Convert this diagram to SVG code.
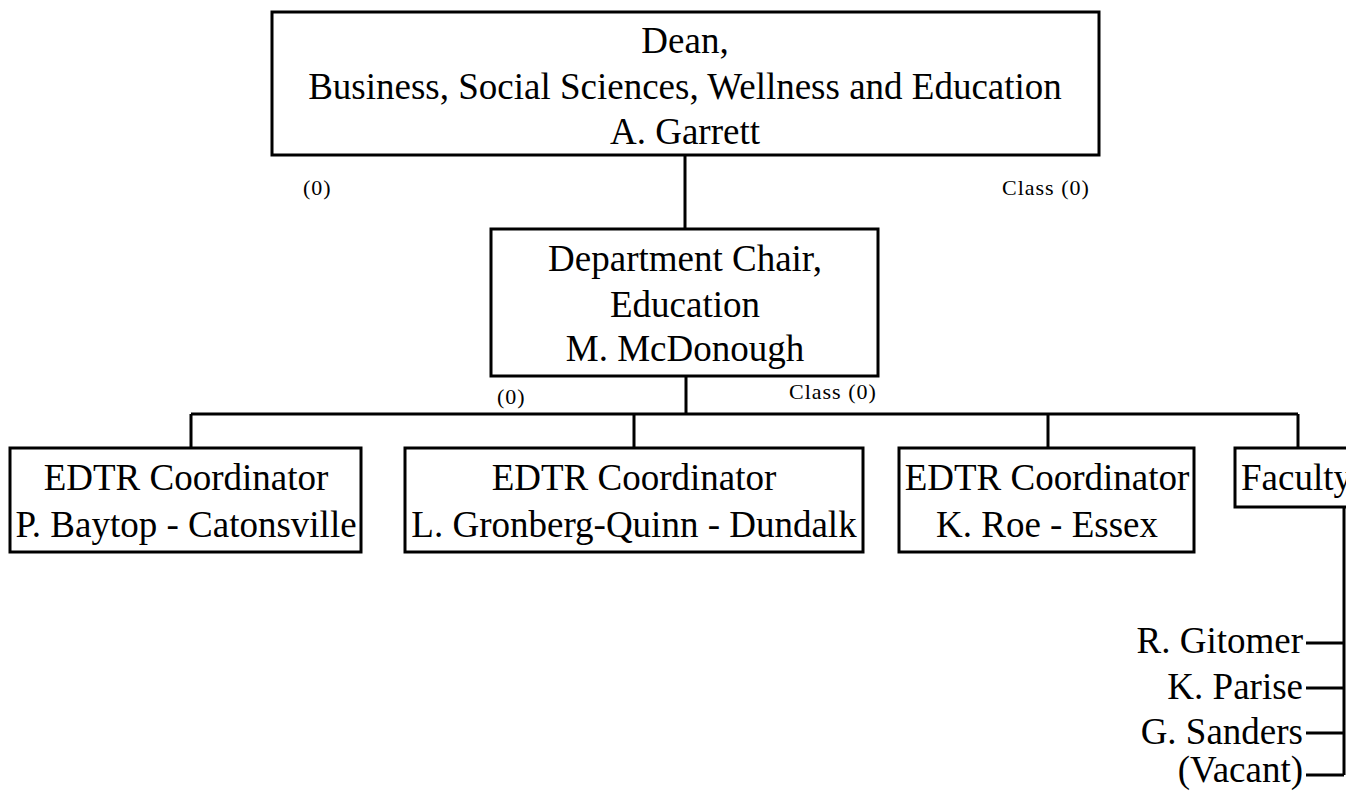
<svg xmlns="http://www.w3.org/2000/svg" width="1346" height="796" viewBox="0 0 1346 796">
<style>
.box{fill:#fff;stroke:#000;stroke-width:3}
.ln{stroke:#000;stroke-width:3;fill:none}
.t{font-family:"Liberation Serif","Times New Roman",serif;font-size:37px;fill:#000;text-anchor:middle}
.s{font-family:"Liberation Serif","Times New Roman",serif;font-size:22px;letter-spacing:1px;fill:#000}
.n{font-family:"Liberation Serif","Times New Roman",serif;font-size:37px;fill:#000;text-anchor:end}
</style>
<rect width="1346" height="796" fill="#fff"/>
<g id="connectors">
<path class="ln" d="M685 155V229M686 376V414M191 414H1298M191 414V448M634 414V448M1048 414V448M1298 414V448M1344 507V775M1306 643H1344M1306 688H1344M1306 733H1344M1306 775H1344"/>
</g>
<g id="dean">
<rect class="box" x="272" y="12" width="827" height="143"/>
<text class="t" x="685" y="53">Dean,</text>
<text class="t" x="685" y="99">Business, Social Sciences, Wellness and Education</text>
<text class="t" x="685" y="144">A. Garrett</text>
<text class="s" x="303" y="195">(0)</text>
<text class="s" x="1002" y="195">Class (0)</text>
</g>
<g id="chair">
<rect class="box" x="491" y="229" width="387" height="147"/>
<text class="t" x="685" y="271">Department Chair,</text>
<text class="t" x="685" y="317">Education</text>
<text class="t" x="685" y="361">M. McDonough</text>
<text class="s" x="497" y="404">(0)</text>
<text class="s" x="789" y="399">Class (0)</text>
</g>
<g id="baytop">
<rect class="box" x="10" y="448" width="351" height="104"/>
<text class="t" x="186" y="490">EDTR Coordinator</text>
<text class="t" x="186" y="537">P. Baytop - Catonsville</text>
</g>
<g id="gronberg">
<rect class="box" x="405" y="448" width="458" height="104"/>
<text class="t" x="634" y="490">EDTR Coordinator</text>
<text class="t" x="634" y="537">L. Gronberg-Quinn - Dundalk</text>
</g>
<g id="roe">
<rect class="box" x="899" y="448" width="295" height="104"/>
<text class="t" x="1047" y="490">EDTR Coordinator</text>
<text class="t" x="1047" y="537">K. Roe - Essex</text>
</g>
<g id="faculty">
<rect class="box" x="1235" y="448" width="130" height="59"/>
<text class="t" x="1241" y="490" style="text-anchor:start">Faculty</text>
</g>
<g id="names">
<text class="n" x="1303" y="653">R. Gitomer</text>
<text class="n" x="1303" y="699">K. Parise</text>
<text class="n" x="1303" y="744">G. Sanders</text>
<text class="n" x="1303" y="782">(Vacant)</text>
</g>
</svg>
